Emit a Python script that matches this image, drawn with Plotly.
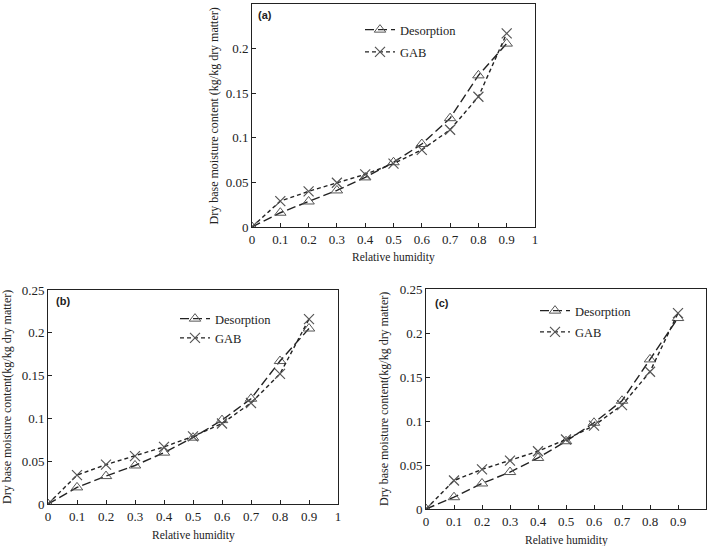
import plotly.graph_objects as go

rh = [0, 0.1, 0.2, 0.3, 0.4, 0.5, 0.6, 0.7, 0.8, 0.9]

a_desorption = [0, 0.016, 0.0286, 0.041, 0.0556, 0.0726, 0.093, 0.122, 0.170, 0.2056]
a_gab = [0, 0.029, 0.040, 0.0496, 0.059, 0.071, 0.0865, 0.109, 0.146, 0.217]

b_desorption = [0, 0.0194, 0.0326, 0.045, 0.060, 0.0775, 0.098, 0.123, 0.167, 0.205]
b_gab = [0, 0.0337, 0.046, 0.056, 0.0667, 0.079, 0.094, 0.118, 0.152, 0.216]

c_desorption = [0, 0.0134, 0.029, 0.042, 0.058, 0.077, 0.098, 0.123, 0.170, 0.217]
c_gab = [0, 0.0324, 0.045, 0.055, 0.0656, 0.079, 0.0947, 0.118, 0.156, 0.2225]

panel_labels = ["(a)", "(b)", "(c)"]
series_names = ["Desorption", "GAB"]
x_title = "Relative humidity"
y_titles = ["Dry base moisture content (kg/kg dry matter)",
            "Dry base moisture content(kg/kg dry matter)",
            "Dry base moisture content(kg/kg dry matter)"]
x_ticks = [0, 0.1, 0.2, 0.3, 0.4, 0.5, 0.6, 0.7, 0.8, 0.9, 1]
y_ticks = [0, 0.05, 0.1, 0.15, 0.2, 0.25]

W, H = 709, 546
SERIF = "Liberation Serif"

# panel pixel boxes (left, right, top, bottom)
boxes = [(252, 535, 4, 227), (48, 338, 290, 504), (426, 706, 289, 509)]
xtitle_y = [257, 535, 540]
ytitle_x = [213, 7, 384]
legend_pos = [(360, 15), (175, 304), (535, 296)]
legend_gap = [3, 0, 2]
label_pos = [(265, 15), (63, 301), (442, 303)]

data = [(a_desorption, a_gab), (b_desorption, b_gab), (c_desorption, c_gab)]

fig = go.Figure()
layout = dict(width=W, height=H, margin=dict(l=0, r=0, t=0, b=0, autoexpand=False),
              paper_bgcolor="white", plot_bgcolor="white",
              font=dict(family=SERIF, size=13, color="#222"), annotations=[])

for i, (des, gab) in enumerate(data):
    n = "" if i == 0 else str(i + 1)
    xa, ya = "x" + n, "y" + n
    lg = "legend" + n
    fig.add_trace(go.Scatter(x=rh, y=des, name=series_names[0], mode="lines+markers",
                             xaxis=xa, yaxis=ya, legend=lg, legendgroup="d" + n,
                             line=dict(color="#222", width=1.4, dash="9px,4px"),
                             marker=dict(symbol="triangle-up-open", size=10, color="#555",
                                         line=dict(width=1, color="#555"))))
    fig.add_trace(go.Scatter(x=rh, y=gab, name=series_names[1], mode="lines+markers",
                             xaxis=xa, yaxis=ya, legend=lg, legendgroup="g" + n,
                             line=dict(color="#222", width=1.4, dash="4px,3px"),
                             marker=dict(symbol="x-thin-open", size=10, color="#555",
                                         line=dict(width=1.2, color="#555"))))
    l, r, t, b = boxes[i]
    xd = [l / W, r / W]
    yd = [1 - b / H, 1 - t / H]
    axis_common = dict(showline=True, linecolor="#222", linewidth=1, mirror=True,
                       ticks="inside", ticklen=4, tickcolor="#222", showgrid=False,
                       zeroline=False, automargin=False,
                       tickfont=dict(family=SERIF, size=13, color="#222"))
    layout["xaxis" + n] = dict(domain=xd, range=[0, 1], tickvals=x_ticks,
                               anchor=ya, **axis_common)
    layout["yaxis" + n] = dict(domain=yd, range=[0, 0.25], tickvals=y_ticks,
                               anchor=xa, **axis_common)
    lx, ly = legend_pos[i]
    layout[lg] = dict(x=lx / W, y=1 - ly / H, xanchor="left", yanchor="top",
                      bgcolor="rgba(0,0,0,0)", font=dict(family=SERIF, size=12.5, color="#222"),
                      tracegroupgap=legend_gap[i], itemwidth=30)
    layout["annotations"] += [
        dict(text=x_title, x=(l + r) / 2 / W, y=1 - xtitle_y[i] / H, xref="paper", yref="paper",
             xanchor="center", yanchor="middle",
             showarrow=False, font=dict(family=SERIF, size=11.5, color="#222")),
        dict(text=y_titles[i], x=ytitle_x[i] / W, y=1 - (t + b) / 2 / H, xref="paper", yref="paper",
             xanchor="center", yanchor="middle",
             showarrow=False, textangle=-90, font=dict(family=SERIF, size=12, color="#222")),
        dict(text="<b>" + panel_labels[i] + "</b>", x=label_pos[i][0] / W, y=1 - label_pos[i][1] / H,
             xref="paper", yref="paper", showarrow=False, xanchor="center", yanchor="middle",
             font=dict(family="Liberation Sans", size=11, color="#222")),
    ]

fig.update_layout(**layout)
fig.write_html("out.html", config={"displayModeBar": False},
               post_script="document.body.style.margin='0';document.body.style.overflow='hidden';")
